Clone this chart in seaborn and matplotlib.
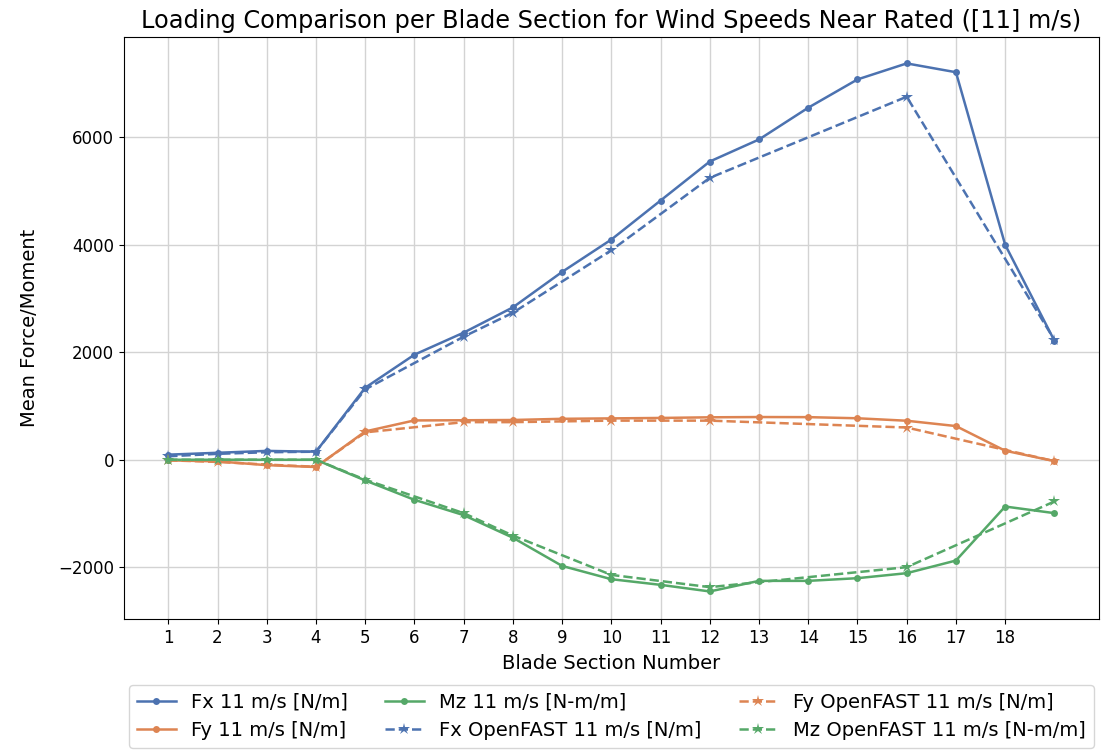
import matplotlib
matplotlib.use("Agg")
import matplotlib.pyplot as plt
import seaborn as sns
import pandas as pd

sections = list(range(1, 20))
fx = [95, 130, 165, 150, 1340, 1955, 2365, 2835, 3495, 4097, 4823, 5549, 5959, 6550, 7076, 7374, 7210, 4000, 2215]
fy = [-10, -30, -100, -135, 527, 732, 735, 740, 762, 770, 778, 790, 795, 793, 772, 726, 627, 168, -25]
mz = [0, 0, 0, 0, -385, -745, -1030, -1450, -1975, -2222, -2327, -2450, -2253, -2253, -2203, -2110, -1875, -870, -993]

of_sections = [1, 2, 3, 4, 5, 7, 8, 10, 12, 16, 19]
fx_of = [65, 110, 140, 150, 1310, 2290, 2735, 3898, 5245, 6754, 2230]
fy_of = [-10, -40, -90, -130, 510, 700, 700, 728, 728, 600, -25]
mz_of = [0, 0, 0, 0, -370, -993, -1410, -2142, -2370, -1998, -776]

title = "Loading Comparison per Blade Section for Wind Speeds Near Rated ([11] m/s)"
xlabel = "Blade Section Number"
ylabel = "Mean Force/Moment"
xticks = list(range(1, 19))

pal = sns.color_palette("deep")
fig, ax = plt.subplots(figsize=(11.02, 7.5), dpi=100)
fig.subplots_adjust(left=0.1125, right=0.997, top=0.951, bottom=0.1747)

solid = [("Fx 11 m/s [N/m]", fx, pal[0]), ("Fy 11 m/s [N/m]", fy, pal[1]), ("Mz 11 m/s [N-m/m]", mz, pal[2])]
dashed = [("Fx OpenFAST 11 m/s [N/m]", fx_of, pal[0]), ("Fy OpenFAST 11 m/s [N/m]", fy_of, pal[1]), ("Mz OpenFAST 11 m/s [N-m/m]", mz_of, pal[2])]

for lab, vals, c in solid:
    sns.lineplot(x=sections, y=vals, ax=ax, color=c, marker="o", markersize=5,
                 markeredgewidth=0, linewidth=1.8, label=lab)
for lab, vals, c in dashed:
    sns.lineplot(x=of_sections, y=vals, ax=ax, color=c, marker="*", markersize=9,
                 markeredgewidth=0, linewidth=1.8, linestyle="--", label=lab)

ax.set_xticks(xticks)
ax.set_xlim(0.1, 19.9)
ax.set_ylim(-2962, 7870)
ax.grid(True, color="#d3d3d3", linewidth=1)
ax.set_axisbelow(True)
ax.tick_params(labelsize=12)
ax.set_title(title, fontsize=17.3)
ax.set_xlabel(xlabel, fontsize=14, labelpad=5)
ax.set_ylabel(ylabel, fontsize=14, labelpad=14)
for s in ax.spines.values():
    s.set_color("black")

ax.legend(loc="upper center", bbox_to_anchor=(0.5, -0.113), ncol=3, fontsize=14,
          handlelength=2, columnspacing=1.9, borderaxespad=0)

fig.savefig("out.png", dpi=100)
